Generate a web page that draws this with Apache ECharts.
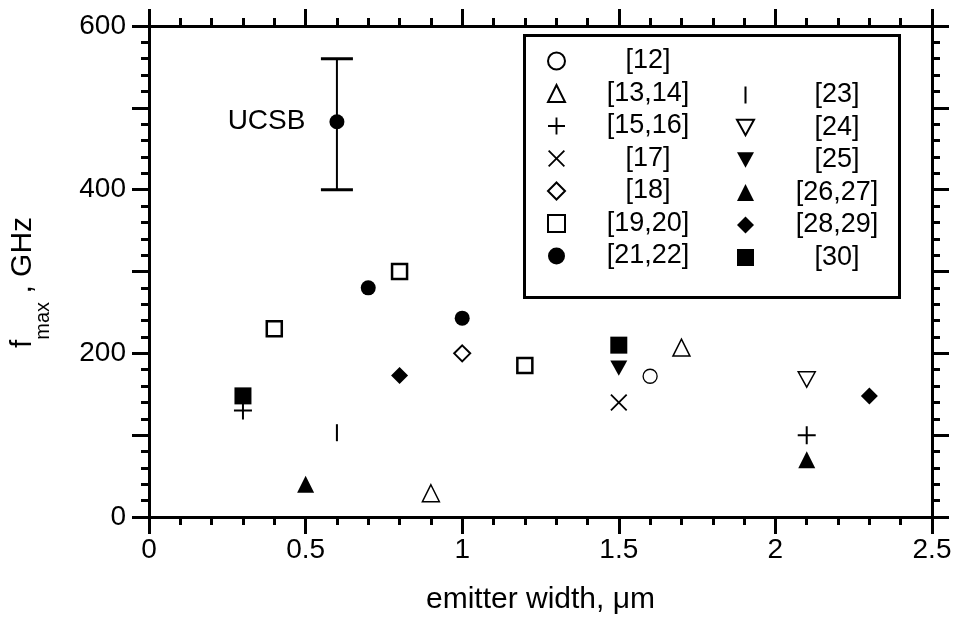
<!DOCTYPE html>
<html>
<head>
<meta charset="utf-8">
<script src="https://cdn.jsdelivr.net/npm/echarts@6/dist/echarts.min.js"></script>
<style>
html, body { margin: 0; padding: 0; background: #fff; }
#chart { width: 956px; height: 621px; }
</style>
</head>
<body>
<div id="chart"></div>
<script>
// data: [emitter width (um), fmax (GHz)]
var ref12   = [[1.6, 172]];
var ref1314 = [[1.7, 207], [0.9, 29]];
var ref1516 = [[0.3, 130], [2.1, 100]];
var ref17   = [[1.5, 140]];
var ref18   = [[1.0, 200]];
var ref1920 = [[0.4, 230], [0.8, 300], [1.2, 185]];
var ref2122 = [[0.7, 280], [1.0, 243]];
var ref23   = [[0.6, 103]];
var ref24   = [[2.1, 168]];
var ref25   = [[1.5, 182]];
var ref2627 = [[0.5, 40], [2.1, 70]];
var ref2829 = [[0.8, 173], [2.3, 148]];
var ref30   = [[0.3, 148], [1.5, 210]];
// UCSB point with error bar [x, y, low, high]
var ucsb = [[0.6, 483, 400, 560]];

var legendLeft  = ['[12]', '[13,14]', '[15,16]', '[17]', '[18]', '[19,20]', '[21,22]'];
var legendRight = ['[23]', '[24]', '[25]', '[26,27]', '[28,29]', '[30]'];

// symbols
var plusPath  = 'path://M8,0 H10 V8 H18 V10 H10 V18 H8 V10 H0 V8 H8 Z';
var crossPath = 'path://M0,1.2 L1.2,0 L8,6.8 L14.8,0 L16,1.2 L9.2,8 L16,14.8 L14.8,16 L8,9.2 L1.2,16 L0,14.8 L6.8,8 Z';
var barPath   = 'path://M0,0 H1.2 V10 H0 Z';
var downTri   = 'path://M0,0 L10,0 L5,9 Z';

var openStyle = function (w) { return { color: '#fff', borderColor: '#000', borderWidth: w, opacity: 1 }; };
var fillStyle = { color: '#000', opacity: 1 };

function sc(name, data, symbol, size, style, extra) {
    var s = {
        name: name,
        type: 'scatter',
        data: data,
        symbol: symbol,
        symbolSize: size,
        symbolKeepAspect: true,
        itemStyle: style,
        emphasis: { disabled: true },
        z: 3
    };
    if (extra) { for (var k in extra) s[k] = extra[k]; }
    return s;
}

var chart = echarts.init(document.getElementById('chart'));

var tickStyle = { color: '#000', width: 3 };
var lineStyle = { onZero: false, lineStyle: tickStyle };
var fontFam = 'Liberation Sans, Arial, sans-serif';

function legendCol(data, left, top) {
    return {
        data: data, orient: 'vertical', left: left, top: top,
        padding: 0, itemGap: 5.5, itemWidth: 17, itemHeight: 17,
        selectedMode: false, z: 5,
        formatter: function (n) { return '{a|' + n + '}'; },
        textStyle: {
            color: '#000', fontSize: 27, fontFamily: fontFam,
            rich: { a: { width: 156, align: 'center', fontSize: 27, lineHeight: 30, fontFamily: fontFam, color: '#000' } }
        }
    };
}

var option = {
    animation: false,
    backgroundColor: '#fff',
    grid: { left: 149, right: 24, top: 26, bottom: 104 },
    xAxis: [
        {
            type: 'value', min: 0, max: 2.5, interval: 0.5,
            axisLine: lineStyle,
            axisTick: { length: 17, lineStyle: tickStyle },
            minorTick: { show: true, splitNumber: 5, length: 8, lineStyle: tickStyle },
            splitLine: { show: false },
            axisLabel: { color: '#000', fontSize: 28, fontFamily: fontFam, margin: 19 },
            name: 'emitter width, \u03bcm',
            nameLocation: 'middle',
            nameGap: 68,
            nameTextStyle: { color: '#000', fontSize: 30, fontFamily: fontFam }
        },
        {
            type: 'value', position: 'top', min: 0, max: 2.5, interval: 0.5,
            axisLine: lineStyle,
            axisTick: { length: 17, lineStyle: tickStyle },
            minorTick: { show: true, splitNumber: 5, length: 8, lineStyle: tickStyle },
            splitLine: { show: false },
            axisLabel: { show: false }
        }
    ],
    yAxis: [
        {
            type: 'value', min: 0, max: 600, interval: 100,
            axisLine: lineStyle,
            axisTick: { length: 17, lineStyle: tickStyle },
            minorTick: { show: true, splitNumber: 5, length: 8, lineStyle: tickStyle },
            splitLine: { show: false },
            axisLabel: {
                color: '#000', fontSize: 28, fontFamily: fontFam, margin: 23,
                formatter: function (v) { return v % 200 === 0 ? String(v) : ''; }
            },
            name: '{f|f}{s|max}{f| , GHz}',
            nameLocation: 'middle',
            nameRotate: 90,
            nameGap: 96,
            nameTextStyle: {
                color: '#000', fontFamily: fontFam, padding: [0, 22, 0, 0],
                rich: {
                    f: { fontSize: 30, lineHeight: 60, fontFamily: fontFam, color: '#000' },
                    s: { fontSize: 20, lineHeight: 20, verticalAlign: 'bottom', fontFamily: fontFam, color: '#000' }
                }
            }
        },
        {
            type: 'value', position: 'right', min: 0, max: 600, interval: 100,
            axisLine: lineStyle,
            axisTick: { length: 17, lineStyle: tickStyle },
            minorTick: { show: true, splitNumber: 5, length: 8, lineStyle: tickStyle },
            splitLine: { show: false },
            axisLabel: { show: false }
        }
    ],
    graphic: [{
        type: 'rect', left: 523, top: 34, z: 1,
        shape: { width: 375, height: 262 },
        style: { fill: '#fff', stroke: '#000', lineWidth: 3 }
    }],
    legend: [
        legendCol(legendLeft, 547, 47.5),
        legendCol(legendRight, 736, 81.5)
    ],
    series: [
        sc('[12]', ref12, 'circle', 14, openStyle(1.3)),
        sc('[13,14]', ref1314, 'triangle', 17, openStyle(1.5)),
        sc('[15,16]', ref1516, plusPath, 18, fillStyle),
        sc('[17]', ref17, crossPath, 17, fillStyle),
        sc('[18]', ref18, 'diamond', 16, openStyle(2)),
        sc('[19,20]', ref1920, 'rect', 15, openStyle(2.5)),
        sc('[21,22]', ref2122, 'circle', 15, fillStyle),
        sc('[23]', ref23, barPath, 17, fillStyle),
        sc('[24]', ref24, downTri, 17, openStyle(1.5)),
        sc('[25]', ref25, downTri, 17, fillStyle),
        sc('[26,27]', ref2627, 'triangle', 17, fillStyle),
        sc('[28,29]', ref2829, 'diamond', 17, fillStyle),
        sc('[30]', ref30, 'rect', 17, fillStyle),
        {
            name: 'UCSB-err',
            type: 'custom',
            data: ucsb,
            encode: { x: 0, y: [2, 3] },
            z: 2,
            renderItem: function (params, api) {
                var x = api.value(0);
                var lo = api.coord([x, api.value(2)]);
                var hi = api.coord([x, api.value(3)]);
                var w = 16;
                return {
                    type: 'group',
                    children: [
                        { type: 'line', shape: { x1: lo[0], y1: lo[1], x2: hi[0], y2: hi[1] }, style: { stroke: '#000', lineWidth: 2 } },
                        { type: 'line', shape: { x1: lo[0] - w, y1: lo[1], x2: lo[0] + w, y2: lo[1] }, style: { stroke: '#000', lineWidth: 3 } },
                        { type: 'line', shape: { x1: hi[0] - w, y1: hi[1], x2: hi[0] + w, y2: hi[1] }, style: { stroke: '#000', lineWidth: 3 } }
                    ]
                };
            }
        },
        sc('UCSB', ucsb.map(function (d) { return [d[0], d[1]]; }), 'circle', 15, fillStyle, {
            label: {
                show: true, position: 'left', distance: 24,
                formatter: 'UCSB', color: '#000', fontSize: 28, fontFamily: fontFam
            }
        })
    ]
};
chart.setOption(option);
</script>
</body>
</html>
